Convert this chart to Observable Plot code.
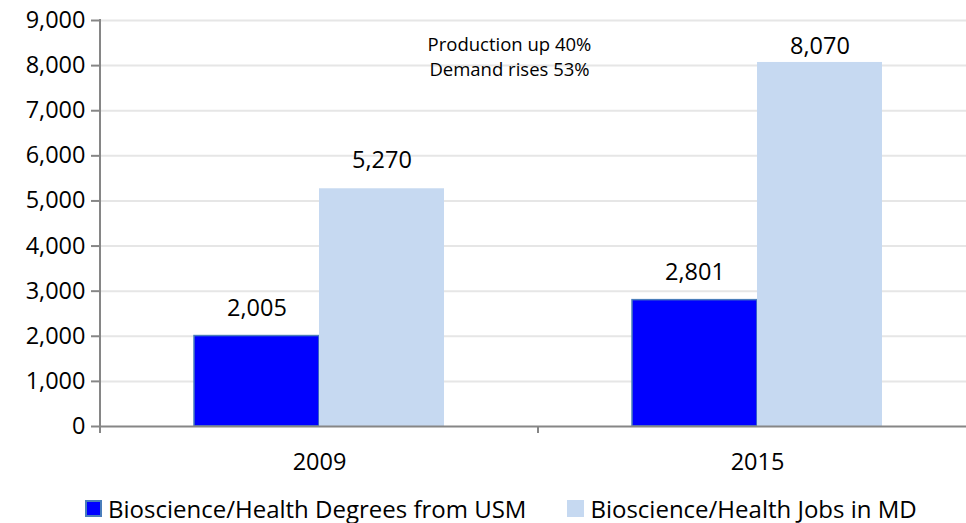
<!DOCTYPE html>
<html>
<head>
<meta charset="utf-8">
<script src="https://cdn.jsdelivr.net/npm/d3@7"></script>
<script src="https://cdn.jsdelivr.net/npm/@observablehq/plot@0.6"></script>
<style>
  html, body { margin: 0; padding: 0; background: #fff; overflow: hidden; }
  body { font-family: "Open Sans", sans-serif; width: 966px; }
  #chart { width: 966px; overflow: hidden; }
  #chart svg { max-width: none !important; }
  #legend { display: flex; align-items: center; padding-top: 11px; padding-left: 85px; height: 30px; font-size: 24px; color: #000; }
  .item { display: flex; align-items: center; white-space: nowrap; }
  .item + .item { margin-left: 41px; }
  .sw { width: 17px; height: 17px; box-sizing: border-box; margin-right: 6px; }
</style>
</head>
<body>
<div id="chart"></div>
<div id="legend"></div>
<script>
const years = ["2009", "2015"];
const series = ["Bioscience/Health Degrees from USM", "Bioscience/Health Jobs in MD"];
const degrees = [2005, 2801];
const jobs = [5270, 8070];
const yTicks = [0, 1000, 2000, 3000, 4000, 5000, 6000, 7000, 8000, 9000];
const notes = ["Production up 40%", "Demand rises 53%"];
const colors = ["#0000ff", "#c6d9f1"];
const strokes = ["#4a7ebb", "none"];

const data = [];
years.forEach((yr, i) => {
  data.push({year: yr, series: series[0], value: degrees[i]});
  data.push({year: yr, series: series[1], value: jobs[i]});
});

const fmt = d3.format(",");
const axisColor = "#868686";
// labels near the top of the frame are tucked closer to their bar (as in the source)
const nearTop = d => d.value > 7500;

const labelOpts = (dy) => ({
  fx: "year", x: "series", y: "value", text: d => fmt(d.value),
  lineAnchor: "middle", dy, fontSize: 23.5, fill: "#000"
});

const plot = Plot.plot({
  width: 976,
  height: 482,
  marginLeft: 99,
  marginRight: 0,
  marginTop: 20,
  marginBottom: 56,
  style: {fontFamily: "Open Sans, sans-serif", color: "#000", background: "#fff", maxWidth: "none"},
  fx: {domain: years, padding: 0, label: null},
  x: {domain: series, paddingInner: 0, paddingOuter: 0.752, axis: null},
  y: {domain: [0, 9000], label: null},
  color: {domain: series, range: colors},
  marks: [
    Plot.ruleY(yTicks.filter(d => d > 0), {stroke: "#e6e6e6", strokeWidth: 2}),
    Plot.barY(data, {
      fx: "year", x: "series", y: "value", fill: "series",
      stroke: d => strokes[series.indexOf(d.series)], strokeWidth: 1.5
    }),
    Plot.text(data.filter(d => !nearTop(d)), labelOpts(-28)),
    Plot.text(data.filter(nearTop), labelOpts(-16)),
    Plot.text([notes.join("\n")], {
      fx: () => years[0], frameAnchor: "top-right", textAnchor: "middle",
      lineAnchor: "middle", dx: -29, dy: 35, fontSize: 18.5, lineHeight: 1.33, fill: "#000"
    }),
    Plot.ruleY([0], {stroke: axisColor, strokeWidth: 2}),
    Plot.axisY({
      ticks: yTicks, tickFormat: fmt, tickSize: 9, tickPadding: 6,
      fontSize: 23.5, stroke: axisColor, strokeWidth: 2, fill: "#000", label: null
    }),
    Plot.axisFx({anchor: "bottom", tickSize: 0, tickPadding: 27, fontSize: 23.5, fill: "#000", label: null})
  ]
});

plot.style.maxWidth = "none";
document.getElementById("chart").appendChild(plot);

// axis lines and category boundary ticks using the plot's own scales
const fxS = plot.scale("fx");
const yS = plot.scale("y");
const svg = d3.select(plot);
const y0 = yS.apply(0), yTop = yS.apply(9000);
const bounds = years.map(y => fxS.apply(y)).concat([fxS.apply(years[years.length - 1]) + fxS.bandwidth]);
const g = svg.append("g").attr("stroke", axisColor).attr("stroke-width", 2);
g.append("line").attr("x1", bounds[0]).attr("x2", bounds[0]).attr("y1", yTop - 1).attr("y2", y0 + 7);
bounds.forEach(b => g.append("line").attr("x1", b).attr("x2", b).attr("y1", y0).attr("y2", y0 + 7));

// legend
const lg = d3.select("#legend");
series.forEach((s, i) => {
  const it = lg.append("div").attr("class", "item");
  it.append("div").attr("class", "sw")
    .style("background", colors[i])
    .style("border", strokes[i] === "none" ? "none" : `2px solid ${strokes[i]}`);
  it.append("span").text(s);
});
</script>
</body>
</html>
